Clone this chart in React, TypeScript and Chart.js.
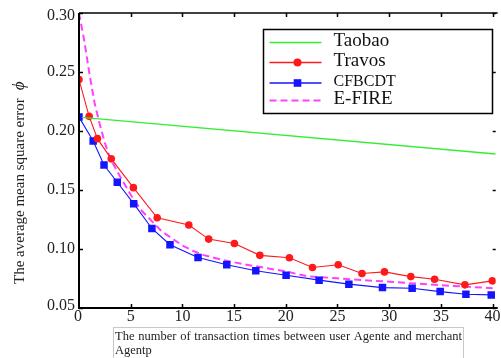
import React, { useEffect, useRef } from "react";
import { Chart, registerables } from "chart.js";

Chart.register(...registerables);

// ---------------- data ----------------
const seriesNames = ["Taobao", "Travos", "CFBCDT", "E-FIRE"];

const taobaoX = [0.3, 40.3];
const taobaoY = [0.2115, 0.1805];

const travosX = [0, 0.98, 1.78, 3.12, 5.26, 7.56, 10.62, 12.54, 15.03, 17.49, 20.35, 22.58, 25.07, 27.37, 29.54, 32.09, 34.39, 37.32, 39.97];
const travosY = [0.2436, 0.2124, 0.1935, 0.1764, 0.152, 0.1265, 0.1203, 0.1084, 0.1047, 0.0946, 0.0926, 0.0843, 0.0866, 0.0793, 0.0806, 0.0766, 0.0744, 0.0696, 0.073];

const cfbcdtX = [0, 1.37, 2.42, 3.7, 5.29, 7.05, 8.8, 11.51, 14.29, 17.1, 20.03, 23.22, 26.1, 29.35, 32.22, 34.93, 37.42, 39.87];
const cfbcdtY = [0.2118, 0.1916, 0.1712, 0.1566, 0.1384, 0.1174, 0.1036, 0.0928, 0.0866, 0.0815, 0.0778, 0.0736, 0.0702, 0.0673, 0.0668, 0.0639, 0.0617, 0.0611];

const efireX = [0, 0.5, 1, 1.5, 2, 2.5, 3, 4, 5, 6, 7, 8, 9, 10, 11, 12, 14, 16, 18, 20, 22, 25, 28, 30, 32, 35, 38, 40];
const efireY = [0.3, 0.277, 0.249, 0.224, 0.206, 0.19, 0.177, 0.161, 0.146, 0.133, 0.124, 0.115, 0.109, 0.103, 0.0985, 0.095, 0.0905, 0.087, 0.084, 0.081, 0.077, 0.0752, 0.0733, 0.0723, 0.071, 0.0693, 0.0678, 0.0668];

const xTicks = [0, 5, 10, 15, 20, 25, 30, 35, 40];
const xTickLabels = ["0", "5", "10", "15", "20", "25", "30", "35", "40"];
const yTicks = [0.05, 0.1, 0.15, 0.2, 0.25, 0.3];
const yTickLabels = ["0.05", "0.10", "0.15", "0.20", "0.25", "0.30"];

const yTitle = "The average mean square error";
const yTitleSymbol = "\u03D5";
const xTitleLine1 = "The number of transaction times between user Agente and merchant";
const xTitleLine2 = "Agentp";

// ---------------- styles ----------------
const GREEN = "#33ee33";
const RED = "#ff1a1a";
const BLUE = "#1414ff";
const MAGENTA = "#ff40ff";
const SERIF = "'Liberation Serif', 'DejaVu Serif', serif";

const toPts = (xs: number[], ys: number[]) => xs.map((x, i) => ({ x, y: ys[i] }));

const customDraw = {
  id: "customDraw",
  afterDatasetsDraw(chart: any) {
    const { ctx, chartArea: ca, scales } = chart;
    const xs = scales.x;
    const ys = scales.y;
    ctx.save();
    ctx.strokeStyle = "#000";
    ctx.fillStyle = "#000";

    // axes frame
    ctx.lineWidth = 2;
    ctx.beginPath();
    ctx.moveTo(ca.left, ca.top);
    ctx.lineTo(ca.left, ca.bottom);
    ctx.lineTo(ca.right + 2, ca.bottom);
    ctx.stroke();
    ctx.lineWidth = 1.5;
    ctx.beginPath();
    ctx.moveTo(ca.left, ca.top);
    ctx.lineTo(ca.right + 2, ca.top);
    ctx.stroke();

    // x ticks (inward, top & bottom)
    ctx.lineWidth = 1.5;
    xTicks.forEach((v) => {
      const px = Math.round(xs.getPixelForValue(v)) + 0.5;
      if (v === 0) return;
      ctx.beginPath();
      ctx.moveTo(px, ca.bottom);
      ctx.lineTo(px, ca.bottom - 4);
      ctx.moveTo(px, ca.top);
      ctx.lineTo(px, ca.top + 4);
      ctx.stroke();
    });
    // y ticks (inward, left & right)
    yTicks.forEach((v) => {
      const py = Math.round(ys.getPixelForValue(v)) + 0.5;
      ctx.beginPath();
      ctx.moveTo(ca.left, py);
      ctx.lineTo(ca.left + 4, py);
      ctx.moveTo(ca.right, py);
      ctx.lineTo(ca.right - 3, py);
      ctx.stroke();
    });

    // tick labels
    ctx.fillStyle = "#222";
    ctx.font = `16px ${SERIF}`;
    ctx.textAlign = "center";
    ctx.textBaseline = "middle";
    xTicks.forEach((v, i) => {
      const px = xs.getPixelForValue(v);
      ctx.fillText(xTickLabels[i], v === 0 ? px - 1 : px, ca.bottom + 9);
    });
    ctx.textAlign = "right";
    yTicks.forEach((v, i) => {
      let py = ys.getPixelForValue(v);
      py = Math.min(Math.max(py, ca.top + 3), ca.bottom - 2);
      ctx.fillText(yTickLabels[i], ca.left - 4, py);
    });

    // y title
    ctx.save();
    ctx.translate(20, 0);
    ctx.rotate(-Math.PI / 2);
    ctx.font = `15px ${SERIF}`;
    ctx.textAlign = "left";
    ctx.textBaseline = "middle";
    ctx.fillStyle = "#222";
    const startY = 284;
    ctx.fillText(yTitle, -startY, 0);
    const tw = ctx.measureText(yTitle).width;
    ctx.font = `italic 17px ${SERIF}`;
    ctx.fillText(yTitleSymbol, -startY + tw + 8, 0);
    ctx.restore();

    // x title box + justified text
    const bx = 113.5, by = 327.5, bw = 350, bh = 32;
    ctx.strokeStyle = "#c8c8c8";
    ctx.lineWidth = 1;
    ctx.strokeRect(bx, by, bw, bh);
    ctx.fillStyle = "#222";
    ctx.font = `12.5px ${SERIF}`;
    ctx.textAlign = "left";
    ctx.textBaseline = "alphabetic";
    const words = xTitleLine1.split(" ");
    const widths = words.map((w) => ctx.measureText(w).width);
    const total = widths.reduce((a, b) => a + b, 0);
    const avail = 347;
    const gap = (avail - total) / (words.length - 1);
    let cx = bx + 1.5;
    words.forEach((w, i) => {
      ctx.fillText(w, cx, 340);
      cx += widths[i] + gap;
    });
    ctx.fillText(xTitleLine2, bx + 1.5, 354);

    // legend
    const lx = ca.left + 184.5, ly = ca.top + 16.5, lw = 229, lh = 84;
    ctx.fillStyle = "#fff";
    ctx.fillRect(lx, ly, lw, lh);
    ctx.strokeStyle = "#000";
    ctx.lineWidth = 1.5;
    ctx.strokeRect(lx, ly, lw, lh);
    const rows = [ly + 13, ly + 33, ly + 53.5, ly + 71];
    const x0 = lx + 6, x1 = lx + 58, xm = lx + 34;
    rows.forEach((ry, i) => {
      ctx.save();
      ctx.lineWidth = i === 3 ? 2 : 1.3;
      ctx.strokeStyle = [GREEN, RED, BLUE, MAGENTA][i];
      if (i === 3) ctx.setLineDash([7, 4]);
      ctx.beginPath();
      ctx.moveTo(x0, ry);
      ctx.lineTo(x1, ry);
      ctx.stroke();
      ctx.restore();
      if (i === 1) {
        ctx.fillStyle = RED;
        ctx.beginPath();
        ctx.arc(xm, ry, 4, 0, Math.PI * 2);
        ctx.fill();
      }
      if (i === 2) {
        ctx.fillStyle = BLUE;
        ctx.fillRect(xm - 3.8, ry - 3.8, 7.6, 7.6);
      }
      ctx.fillStyle = "#111";
      ctx.font = i === 2 ? `16px ${SERIF}` : `19px ${SERIF}`;
      ctx.textAlign = "left";
      ctx.textBaseline = "middle";
      ctx.fillText(seriesNames[i], lx + 70, ry - 1);
    });

    ctx.restore();
  },
};

export default function App() {
  const ref = useRef<HTMLCanvasElement | null>(null);
  useEffect(() => {
    if (!ref.current) return;
    const chart = new Chart(ref.current, {
      type: "line",
      data: {
        datasets: [
          {
            label: seriesNames[0],
            data: toPts(taobaoX, taobaoY),
            borderColor: GREEN,
            borderWidth: 1.3,
            pointRadius: 0,
          },
          {
            label: seriesNames[1],
            data: toPts(travosX, travosY),
            borderColor: RED,
            borderWidth: 1.1,
            pointStyle: "circle",
            pointRadius: 3.8,
            pointBackgroundColor: RED,
            pointBorderWidth: 0,
          },
          {
            label: seriesNames[2],
            data: toPts(cfbcdtX, cfbcdtY),
            borderColor: BLUE,
            borderWidth: 1.1,
            pointStyle: "rect",
            pointRadius: 5.3,
            pointBackgroundColor: BLUE,
            pointBorderWidth: 0,
          },
          {
            label: seriesNames[3],
            data: toPts(efireX, efireY),
            borderColor: MAGENTA,
            borderWidth: 2,
            borderDash: [7, 4],
            pointRadius: 0,
          },
        ],
      },
      options: {
        animation: false,
        responsive: false,
        devicePixelRatio: 1,
        layout: { padding: { left: 79, top: 13, right: 0, bottom: 50 } },
        plugins: { legend: { display: false }, tooltip: { enabled: false }, title: { display: false } },
        scales: {
          x: { type: "linear", min: 0, max: 40.3, display: false },
          y: { type: "linear", min: 0.05, max: 0.3, display: false },
        },
      },
      plugins: [customDraw],
    });
    return () => chart.destroy();
  }, []);
  return (
    <div style={{ position: "fixed", left: 0, top: 0, width: 501, height: 358, background: "#fff" }}>
      <canvas ref={ref} width={501} height={358} style={{ display: "block" }} />
    </div>
  );
}
